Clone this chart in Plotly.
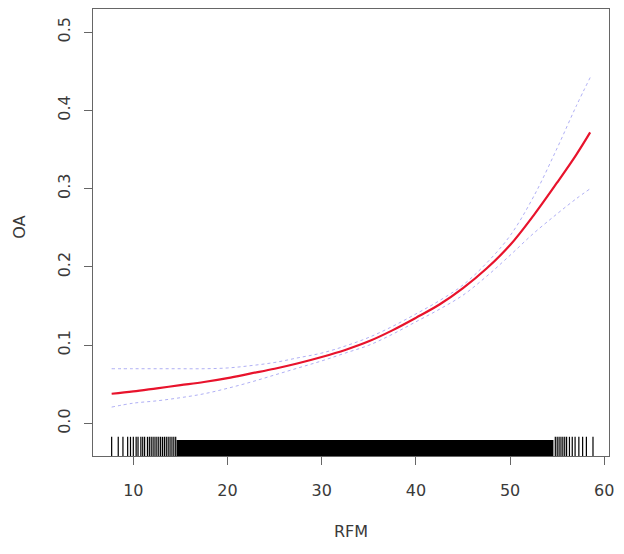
import plotly.graph_objects as go

# Smooth fit of OA against RFM, with its pointwise band
RFM = [7.7, 10, 12.5, 15, 17.5, 20, 22.5, 25, 27.5, 30, 32.5, 35, 37.5, 40, 42.5,
       45, 47.5, 50, 52.5, 55, 57, 58.5]
OA_FIT = [0.038, 0.041, 0.045, 0.049, 0.053, 0.058, 0.064, 0.070, 0.077, 0.085, 0.094,
          0.105, 0.119, 0.135, 0.152, 0.173, 0.198, 0.228, 0.266, 0.308, 0.343, 0.372]
OA_UPPER = [0.070, 0.070, 0.070, 0.070, 0.070, 0.071, 0.074, 0.078, 0.084, 0.090, 0.099,
            0.110, 0.124, 0.140, 0.157, 0.177, 0.205, 0.240, 0.290, 0.352, 0.405, 0.442]
OA_LOWER = [0.021, 0.026, 0.029, 0.033, 0.038, 0.045, 0.053, 0.062, 0.071, 0.080, 0.090,
            0.100, 0.114, 0.130, 0.146, 0.164, 0.188, 0.215, 0.243, 0.268, 0.287, 0.300]

# rug: sparse ticks at both tails, solid band in between
RUG_LEFT = [7.7, 8.4, 8.9, 9.4, 9.7, 10.0, 10.3, 10.5, 10.8, 11.0, 11.2, 11.5, 11.7,
            11.9, 12.1, 12.3, 12.5, 12.7, 12.9, 13.1, 13.3, 13.5, 13.7, 13.9, 14.1,
            14.3, 14.5]
RUG_DENSE = (14.6, 54.6)
RUG_RIGHT = [54.8, 55.0, 55.2, 55.4, 55.6, 55.8, 56.0, 56.3, 56.6, 56.9, 57.3, 57.7,
             58.1, 58.8]

X_TICKS = [10, 20, 30, 40, 50, 60]
Y_TICKS = [0.0, 0.1, 0.2, 0.3, 0.4, 0.5]
X_RANGE = [5.72, 60.5]
Y_RANGE = [-0.0415, 0.5296]

FONT = "DejaVu Sans"
TEXT = "#3a3a3a"
FRAME = "#666666"

# page body adds 8px, so the figure is a bit smaller than the window
FIG_W, FIG_H = 616, 546
MARGIN = dict(l=85, r=15, t=1, b=98)
PLOT_H = FIG_H - MARGIN["t"] - MARGIN["b"]
RUG_PX = 16
y_span = Y_RANGE[1] - Y_RANGE[0]
rug_mid = Y_RANGE[0] + (RUG_PX / 2) / PLOT_H * y_span
rug_top = Y_RANGE[0] + RUG_PX / PLOT_H * y_span

fig = go.Figure()

fig.add_trace(go.Scatter(
    x=[RUG_DENSE[0], RUG_DENSE[1], RUG_DENSE[1], RUG_DENSE[0]],
    y=[Y_RANGE[0], Y_RANGE[0], rug_top, rug_top],
    mode="lines", fill="toself", fillcolor="black",
    line=dict(color="black", width=0), hoverinfo="skip", showlegend=False,
))
rug_x = RUG_LEFT + RUG_RIGHT
fig.add_trace(go.Scatter(
    x=rug_x, y=[rug_mid] * len(rug_x),
    mode="markers",
    marker=dict(symbol="line-ns", size=RUG_PX, line=dict(color="black", width=1.2)),
    hoverinfo="skip", showlegend=False,
))

for band in (OA_UPPER, OA_LOWER):
    fig.add_trace(go.Scatter(
        x=RFM, y=band, mode="lines", line_shape="spline",
        line=dict(color="rgba(110,110,235,0.55)", width=1, dash="dot"),
        showlegend=False,
    ))

fig.add_trace(go.Scatter(
    x=RFM, y=OA_FIT, mode="lines", line_shape="spline",
    line=dict(color="#e8132c", width=2.2),
    showlegend=False,
))

axis_common = dict(
    showgrid=False, zeroline=False, showline=True, mirror=True,
    linecolor=FRAME, linewidth=1, ticks="outside", ticklen=8, tickwidth=1,
    tickcolor=FRAME, tickfont=dict(family=FONT, size=16, color=TEXT),
)

fig.update_layout(
    width=FIG_W, height=FIG_H,
    margin=MARGIN,
    paper_bgcolor="white", plot_bgcolor="white",
    xaxis=dict(range=X_RANGE, tickvals=X_TICKS, ticklabelstandoff=12, **axis_common),
    yaxis=dict(range=Y_RANGE, tickvals=Y_TICKS, tickformat=".1f", tickangle=-90,
               ticklabelstandoff=8, **axis_common),
    annotations=[
        dict(text="RFM", xref="paper", yref="paper", x=0.5, y=-0.169,
             xanchor="center", yanchor="middle",
             showarrow=False, font=dict(family=FONT, size=16, color=TEXT)),
        dict(text="OA", xref="paper", yref="paper", x=-0.1415, y=0.513,
             xanchor="center", yanchor="middle",
             textangle=-90, showarrow=False, font=dict(family=FONT, size=16, color=TEXT)),
    ],
)

fig.write_html("out.html")
